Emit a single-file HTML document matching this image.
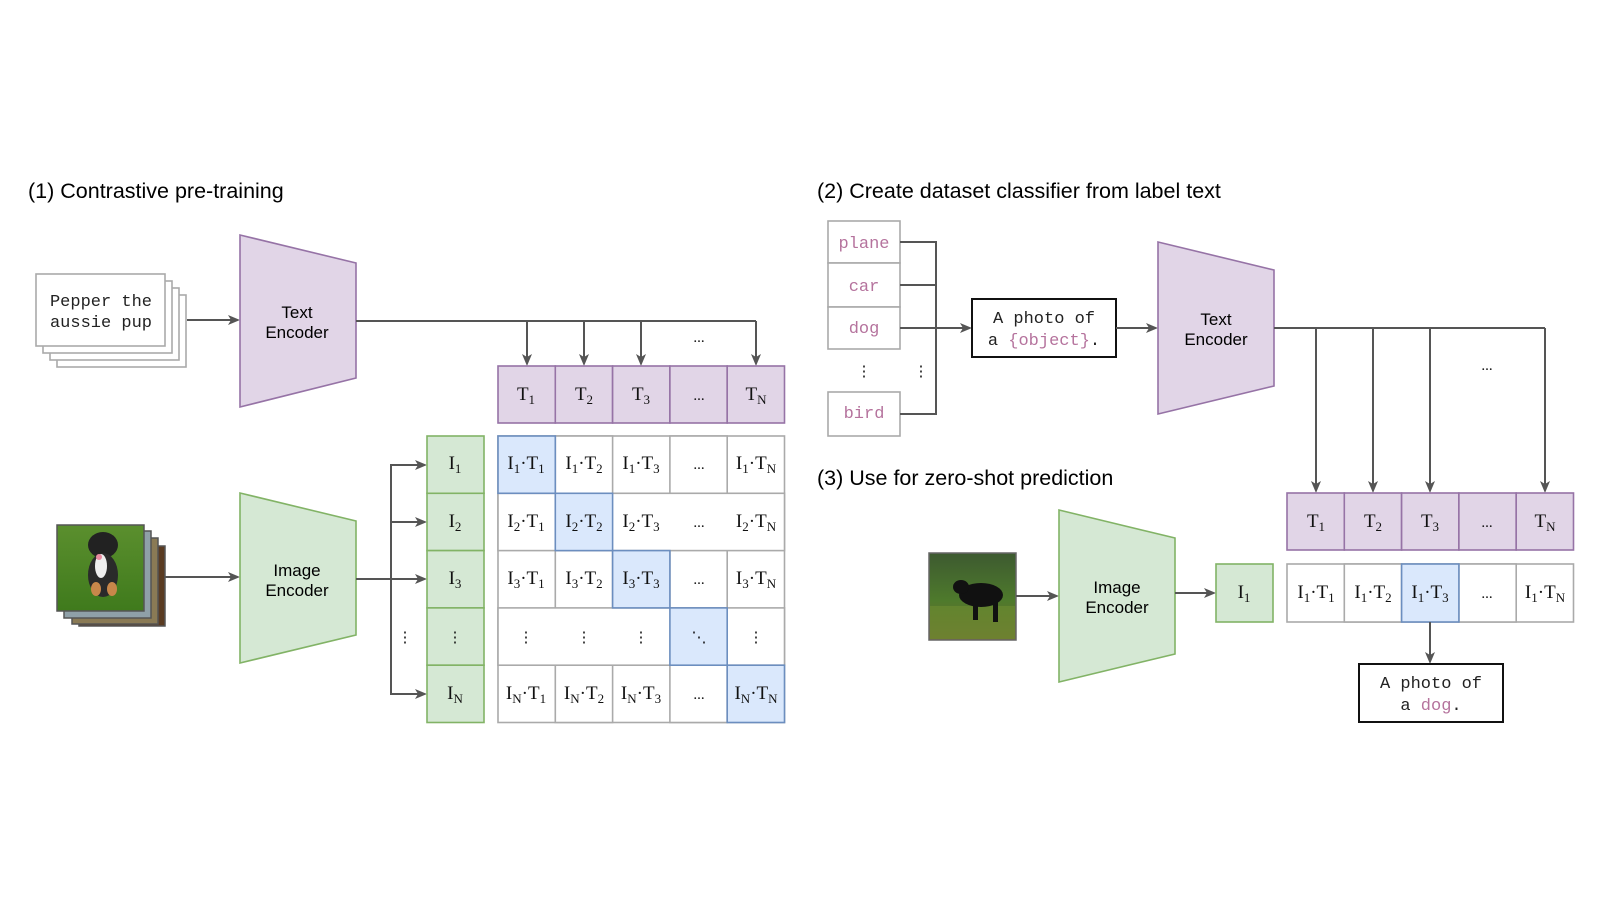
<!DOCTYPE html>
<html><head><meta charset="utf-8"><style>
html,body{margin:0;padding:0;background:#fff;width:1600px;height:900px;overflow:hidden}
svg{display:block}
.t{font-family:"Liberation Sans",sans-serif;font-size:21.5px;fill:#000}
.enc{font-family:"Liberation Sans",sans-serif;font-size:17px;fill:#000;text-anchor:middle}
.m{font-family:"Liberation Mono",monospace;font-size:17px;fill:#222;text-anchor:middle}
.pk{fill:#b5739d}
.s{font-family:"Liberation Serif",serif;font-size:19px;fill:#111;text-anchor:middle}
.sub{font-size:13px}
.d{font-size:15px}
.ln{stroke:#555;stroke-width:2;fill:none}
.pc{fill:#e1d5e7;stroke:#9673a6;stroke-width:1.6}
.gc{fill:#d5e8d4;stroke:#82b366;stroke-width:1.6}
.wc{fill:#fff;stroke:#aaa;stroke-width:1.6}
.bc{fill:#dae8fc;stroke:#6c8ebf;stroke-width:1.6}
</style></head><body>
<svg width="1600" height="900" viewBox="0 0 1600 900" xmlns="http://www.w3.org/2000/svg">
<defs>
<linearGradient id="g1" x1="0" y1="0" x2="0" y2="1"><stop offset="0" stop-color="#5b8f2e"/><stop offset="1" stop-color="#3f7a1c"/></linearGradient>
<linearGradient id="g2" x1="0" y1="0" x2="0" y2="1"><stop offset="0" stop-color="#3d5a30"/><stop offset="0.55" stop-color="#4e7a2c"/><stop offset="1" stop-color="#7a6a30"/></linearGradient>
</defs>

<text class="t" x="28" y="198">(1) Contrastive pre-training</text>
<text class="t" x="817" y="198">(2) Create dataset classifier from label text</text>
<text class="t" x="817" y="485">(3) Use for zero-shot prediction</text>

<rect x="57" y="295" width="129" height="72" fill="#fff" stroke="#aaa" stroke-width="1.6"/>
<rect x="50" y="288" width="129" height="72" fill="#fff" stroke="#aaa" stroke-width="1.6"/>
<rect x="43" y="281" width="129" height="72" fill="#fff" stroke="#aaa" stroke-width="1.6"/>
<rect x="36" y="274" width="129" height="72" fill="#fff" stroke="#aaa" stroke-width="1.6"/>
<text class="m" x="101" y="306">Pepper the</text>
<text class="m" x="101" y="327">aussie pup</text>

<line class="ln" x1="187" y1="320" x2="232" y2="320"/>
<polygon fill="#555" points="240,320 228,315 231,320 228,325"/>

<polygon class="pc" points="240,235 356,263 356,378 240,407"/>
<text class="enc" x="297" y="318">Text</text>
<text class="enc" x="297" y="338">Encoder</text>

<path class="ln" d="M356,321 H756"/>
<line class="ln" x1="527" y1="321" x2="527" y2="358"/><polygon fill="#555" points="527,366 522,354 527,357 532,354"/>
<line class="ln" x1="584" y1="321" x2="584" y2="358"/><polygon fill="#555" points="584,366 579,354 584,357 589,354"/>
<line class="ln" x1="641" y1="321" x2="641" y2="358"/><polygon fill="#555" points="641,366 636,354 641,357 646,354"/>
<line class="ln" x1="756" y1="321" x2="756" y2="358"/><polygon fill="#555" points="756,366 751,354 756,357 761,354"/>
<text class="s d" x="699" y="342">...</text>

<rect class="pc" x="498" y="366" width="57.3" height="57"/>
<rect class="pc" x="555.3" y="366" width="57.3" height="57"/>
<rect class="pc" x="612.6" y="366" width="57.3" height="57"/>
<rect class="pc" x="669.9" y="366" width="57.3" height="57"/>
<rect class="pc" x="727.2" y="366" width="57.3" height="57"/>
<text class="s" x="526" y="400">T<tspan class="sub" dy="4">1</tspan></text>
<text class="s" x="584" y="400">T<tspan class="sub" dy="4">2</tspan></text>
<text class="s" x="641" y="400">T<tspan class="sub" dy="4">3</tspan></text>
<text class="s d" x="699" y="400">...</text>
<text class="s" x="756" y="400">T<tspan class="sub" dy="4">N</tspan></text>

<rect x="79" y="546" width="86" height="80" fill="#5a3b22" stroke="#555" stroke-width="1.5"/>
<rect x="72" y="538" width="86" height="86" fill="#8a7a55" stroke="#555" stroke-width="1.5"/>
<rect x="64" y="531" width="87" height="87" fill="#8fa0a8" stroke="#555" stroke-width="1.5"/>
<rect x="57" y="525" width="87" height="86" fill="url(#g1)" stroke="#555" stroke-width="1.5"/>
<ellipse cx="103" cy="545" rx="15" ry="13" fill="#222"/>
<ellipse cx="103" cy="575" rx="15" ry="22" fill="#2a2a2a"/>
<ellipse cx="101" cy="566" rx="6" ry="12" fill="#eee"/>
<ellipse cx="96" cy="589" rx="5" ry="7" fill="#c8874a"/>
<ellipse cx="112" cy="589" rx="5" ry="7" fill="#c8874a"/>
<ellipse cx="99" cy="557" rx="3" ry="3" fill="#e98aa0"/>

<line class="ln" x1="165" y1="577" x2="232" y2="577"/>
<polygon fill="#555" points="240,577 228,572 231,577 228,582"/>

<polygon class="gc" points="240,493 356,521 356,635 240,663"/>
<text class="enc" x="297" y="576">Image</text>
<text class="enc" x="297" y="596">Encoder</text>

<path class="ln" d="M356,579 H419"/>
<path class="ln" d="M419,465 H391 V694 H419"/>
<line class="ln" x1="391" y1="522" x2="419" y2="522"/>
<polygon fill="#555" points="427,465 415,460 418,465 415,470"/>
<polygon fill="#555" points="427,522 415,517 418,522 415,527"/>
<polygon fill="#555" points="427,579 415,574 418,579 415,584"/>
<polygon fill="#555" points="427,694 415,689 418,694 415,699"/>
<text class="s d" x="405" y="642">⋮</text>

<rect class="gc" x="427" y="436" width="57" height="57.3"/>
<rect class="gc" x="427" y="493.3" width="57" height="57.3"/>
<rect class="gc" x="427" y="550.6" width="57" height="57.3"/>
<rect class="gc" x="427" y="607.9" width="57" height="57.3"/>
<rect class="gc" x="427" y="665.2" width="57" height="57.3"/>
<text class="s" x="455" y="469">I<tspan class="sub" dy="4">1</tspan></text>
<text class="s" x="455" y="527">I<tspan class="sub" dy="4">2</tspan></text>
<text class="s" x="455" y="584">I<tspan class="sub" dy="4">3</tspan></text>
<text class="s d" x="455" y="642">⋮</text>
<text class="s" x="455" y="699">I<tspan class="sub" dy="4">N</tspan></text>

<rect class="wc" x="498" y="436" width="286.5" height="286.5"/>
<rect class="wc" x="555.3" y="436" width="57.3" height="286.5"/>
<rect class="wc" x="669.9" y="436" width="57.3" height="286.5"/>
<rect class="wc" x="498" y="493.3" width="286.5" height="57.3"/>
<rect class="wc" x="498" y="607.9" width="286.5" height="57.3"/>
<rect class="bc" x="498" y="436" width="57.3" height="57.3"/>
<rect class="bc" x="555.3" y="493.3" width="57.3" height="57.3"/>
<rect class="bc" x="612.6" y="550.6" width="57.3" height="57.3"/>
<rect class="bc" x="669.9" y="607.9" width="57.3" height="57.3"/>
<rect class="bc" x="727.2" y="665.2" width="57.3" height="57.3"/>

<text class="s" x="526" y="469">I<tspan class="sub" dy="4">1</tspan><tspan dy="-4">·T</tspan><tspan class="sub" dy="4">1</tspan></text>
<text class="s" x="584" y="469">I<tspan class="sub" dy="4">1</tspan><tspan dy="-4">·T</tspan><tspan class="sub" dy="4">2</tspan></text>
<text class="s" x="641" y="469">I<tspan class="sub" dy="4">1</tspan><tspan dy="-4">·T</tspan><tspan class="sub" dy="4">3</tspan></text>
<text class="s d" x="699" y="469">...</text>
<text class="s" x="756" y="469">I<tspan class="sub" dy="4">1</tspan><tspan dy="-4">·T</tspan><tspan class="sub" dy="4">N</tspan></text>

<text class="s" x="526" y="527">I<tspan class="sub" dy="4">2</tspan><tspan dy="-4">·T</tspan><tspan class="sub" dy="4">1</tspan></text>
<text class="s" x="584" y="527">I<tspan class="sub" dy="4">2</tspan><tspan dy="-4">·T</tspan><tspan class="sub" dy="4">2</tspan></text>
<text class="s" x="641" y="527">I<tspan class="sub" dy="4">2</tspan><tspan dy="-4">·T</tspan><tspan class="sub" dy="4">3</tspan></text>
<text class="s d" x="699" y="527">...</text>
<text class="s" x="756" y="527">I<tspan class="sub" dy="4">2</tspan><tspan dy="-4">·T</tspan><tspan class="sub" dy="4">N</tspan></text>

<text class="s" x="526" y="584">I<tspan class="sub" dy="4">3</tspan><tspan dy="-4">·T</tspan><tspan class="sub" dy="4">1</tspan></text>
<text class="s" x="584" y="584">I<tspan class="sub" dy="4">3</tspan><tspan dy="-4">·T</tspan><tspan class="sub" dy="4">2</tspan></text>
<text class="s" x="641" y="584">I<tspan class="sub" dy="4">3</tspan><tspan dy="-4">·T</tspan><tspan class="sub" dy="4">3</tspan></text>
<text class="s d" x="699" y="584">...</text>
<text class="s" x="756" y="584">I<tspan class="sub" dy="4">3</tspan><tspan dy="-4">·T</tspan><tspan class="sub" dy="4">N</tspan></text>

<text class="s d" x="526" y="642">⋮</text>
<text class="s d" x="584" y="642">⋮</text>
<text class="s d" x="641" y="642">⋮</text>
<text class="s d" x="699" y="642">⋱</text>
<text class="s d" x="756" y="642">⋮</text>

<text class="s" x="526" y="699">I<tspan class="sub" dy="4">N</tspan><tspan dy="-4">·T</tspan><tspan class="sub" dy="4">1</tspan></text>
<text class="s" x="584" y="699">I<tspan class="sub" dy="4">N</tspan><tspan dy="-4">·T</tspan><tspan class="sub" dy="4">2</tspan></text>
<text class="s" x="641" y="699">I<tspan class="sub" dy="4">N</tspan><tspan dy="-4">·T</tspan><tspan class="sub" dy="4">3</tspan></text>
<text class="s d" x="699" y="699">...</text>
<text class="s" x="756" y="699">I<tspan class="sub" dy="4">N</tspan><tspan dy="-4">·T</tspan><tspan class="sub" dy="4">N</tspan></text>

<rect class="wc" x="828" y="221" width="72" height="42"/>
<rect class="wc" x="828" y="263" width="72" height="44"/>
<rect class="wc" x="828" y="307" width="72" height="42"/>
<rect class="wc" x="828" y="392" width="72" height="44"/>
<text class="m pk" x="864" y="248">plane</text>
<text class="m pk" x="864" y="291">car</text>
<text class="m pk" x="864" y="333">dog</text>
<text class="m pk" x="864" y="418">bird</text>
<text class="s d" x="864" y="376">⋮</text>
<text class="s d" x="921" y="376">⋮</text>
<path class="ln" d="M900,242 H936 V414 H900 M900,285 H936 M900,328 H964"/>
<polygon fill="#555" points="972,328 960,323 963,328 960,333"/>

<rect x="972" y="299" width="144" height="58" fill="#fff" stroke="#111" stroke-width="2"/>
<text class="m" x="1044" y="323">A photo of</text>
<text class="m" x="1044" y="345">a <tspan class="pk">{object}</tspan>.</text>
<line class="ln" x1="1116" y1="328" x2="1150" y2="328"/>
<polygon fill="#555" points="1158,328 1146,323 1149,328 1146,333"/>

<polygon class="pc" points="1158,242 1274,270 1274,386 1158,414"/>
<text class="enc" x="1216" y="325">Text</text>
<text class="enc" x="1216" y="345">Encoder</text>

<path class="ln" d="M1274,328 H1545"/>
<line class="ln" x1="1316" y1="328" x2="1316" y2="485"/><polygon fill="#555" points="1316,493 1311,481 1316,484 1321,481"/>
<line class="ln" x1="1373" y1="328" x2="1373" y2="485"/><polygon fill="#555" points="1373,493 1368,481 1373,484 1378,481"/>
<line class="ln" x1="1430" y1="328" x2="1430" y2="485"/><polygon fill="#555" points="1430,493 1425,481 1430,484 1435,481"/>
<line class="ln" x1="1545" y1="328" x2="1545" y2="485"/><polygon fill="#555" points="1545,493 1540,481 1545,484 1550,481"/>
<text class="s d" x="1487" y="370">...</text>

<rect class="pc" x="1287" y="493" width="57.3" height="57"/>
<rect class="pc" x="1344.3" y="493" width="57.3" height="57"/>
<rect class="pc" x="1401.6" y="493" width="57.3" height="57"/>
<rect class="pc" x="1458.9" y="493" width="57.3" height="57"/>
<rect class="pc" x="1516.2" y="493" width="57.3" height="57"/>
<text class="s" x="1316" y="527">T<tspan class="sub" dy="4">1</tspan></text>
<text class="s" x="1373" y="527">T<tspan class="sub" dy="4">2</tspan></text>
<text class="s" x="1430" y="527">T<tspan class="sub" dy="4">3</tspan></text>
<text class="s d" x="1487" y="527">...</text>
<text class="s" x="1545" y="527">T<tspan class="sub" dy="4">N</tspan></text>

<rect x="929" y="553" width="87" height="87" fill="url(#g2)" stroke="#666" stroke-width="1.5"/>
<rect x="930" y="606" width="85" height="33" fill="#6a8a30" opacity="0.7"/>
<ellipse cx="981" cy="595" rx="22" ry="12" fill="#111"/>
<ellipse cx="961" cy="587" rx="8" ry="7" fill="#111"/>
<rect x="973" y="600" width="5" height="20" fill="#111"/>
<rect x="993" y="600" width="5" height="22" fill="#111"/>
<line class="ln" x1="1016" y1="596" x2="1051" y2="596"/>
<polygon fill="#555" points="1059,596 1047,591 1050,596 1047,601"/>

<polygon class="gc" points="1059,510 1175,538 1175,654 1059,682"/>
<text class="enc" x="1117" y="593">Image</text>
<text class="enc" x="1117" y="613">Encoder</text>
<line class="ln" x1="1175" y1="593" x2="1208" y2="593"/>
<polygon fill="#555" points="1216,593 1204,588 1207,593 1204,598"/>

<rect class="gc" x="1216" y="564" width="57" height="58"/>
<text class="s" x="1244" y="598">I<tspan class="sub" dy="4">1</tspan></text>

<rect class="wc" x="1287" y="564" width="286.5" height="58"/>
<rect class="wc" x="1344.3" y="564" width="57.3" height="58"/>
<rect class="wc" x="1458.9" y="564" width="57.3" height="58"/>
<rect class="bc" x="1401.6" y="564" width="57.3" height="58"/>
<text class="s" x="1316" y="598">I<tspan class="sub" dy="4">1</tspan><tspan dy="-4">·T</tspan><tspan class="sub" dy="4">1</tspan></text>
<text class="s" x="1373" y="598">I<tspan class="sub" dy="4">1</tspan><tspan dy="-4">·T</tspan><tspan class="sub" dy="4">2</tspan></text>
<text class="s" x="1430" y="598">I<tspan class="sub" dy="4">1</tspan><tspan dy="-4">·T</tspan><tspan class="sub" dy="4">3</tspan></text>
<text class="s d" x="1487" y="598">...</text>
<text class="s" x="1545" y="598">I<tspan class="sub" dy="4">1</tspan><tspan dy="-4">·T</tspan><tspan class="sub" dy="4">N</tspan></text>

<line class="ln" x1="1430" y1="622" x2="1430" y2="656"/>
<polygon fill="#555" points="1430,664 1425,652 1430,655 1435,652"/>
<rect x="1359" y="664" width="144" height="58" fill="#fff" stroke="#111" stroke-width="2"/>
<text class="m" x="1431" y="688">A photo of</text>
<text class="m" x="1431" y="710">a <tspan class="pk">dog</tspan>.</text>
</svg>
</body></html>
